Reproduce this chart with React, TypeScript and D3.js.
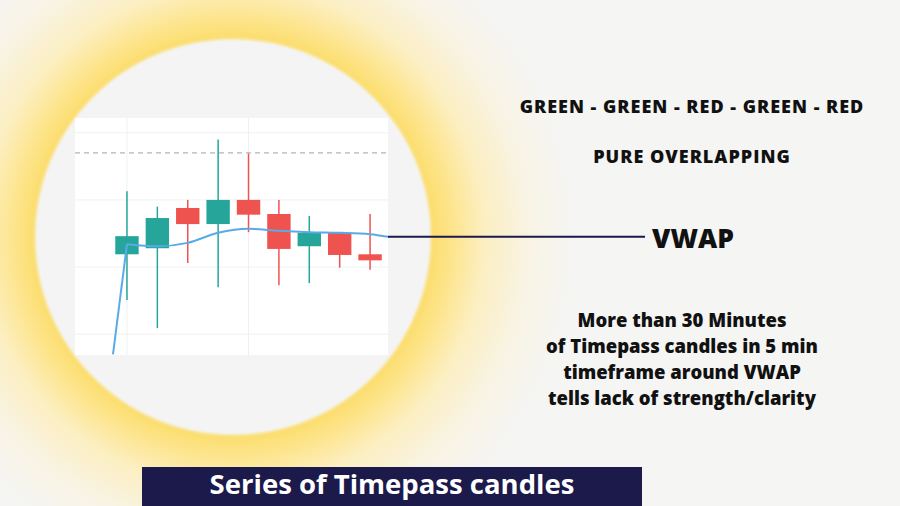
import React, { useEffect, useRef } from 'react';
import * as d3 from 'd3';

interface Candle {
  open: number;
  high: number;
  low: number;
  close: number;
}

// candle values (price units, grid every 10)
const opens = [111.9, 112.8, 118.8, 116.4, 120.0, 117.9, 113.1, 115.1, 111.9];
const highs = [121.3, 119.0, 120.0, 129.0, 126.9, 120.0, 117.6, 115.1, 117.9];
const lows = [105.1, 100.9, 110.6, 107.0, 115.2, 107.3, 107.6, 109.9, 109.6];
const closes = [114.6, 117.3, 116.4, 120.0, 117.8, 112.7, 115.1, 111.8, 111.0];

// VWAP line, x in candle slots
const vwapSlots = [-0.46, 0, 1, 2, 3, 4, 5, 6, 7, 8, 8.59];
const vwapValues = [97.0, 113.4, 113.1, 113.6, 115.1, 115.7, 115.4, 115.2, 115.1, 114.9, 114.5];

const gridPrices = [100, 110, 120, 130];
const gridSlots = [0, 4];
const dashedPrice = 127;

const headLines = ['GREEN - GREEN - RED - GREEN - RED', 'PURE OVERLAPPING'];
const noteLines = [
  'More than 30 Minutes',
  'of Timepass candles in 5 min',
  'timeframe around VWAP',
  'tells lack of strength/clarity',
];
const vwapLabel = 'VWAP';
const bannerText = 'Series of Timepass candles';

const candles: Candle[] = opens.map((o, i) => ({ open: o, high: highs[i], low: lows[i], close: closes[i] }));

const W = 900;
const H = 506;
const UP = '#26a69a';
const DOWN = '#ef5350';
const NAVY = '#1b1a4b';
const FONT = "'Open Sans', 'DejaVu Sans', sans-serif";

const App: React.FC = () => {
  const svgRef = useRef<SVGSVGElement>(null);

  useEffect(() => {
    if (!svgRef.current) return;
    const svg = d3.select(svgRef.current);
    svg.selectAll('*').remove();
    svg.attr('width', W).attr('height', H);

    const defs = svg.append('defs');
    const glow = defs
      .append('radialGradient')
      .attr('id', 'glow')
      .attr('gradientUnits', 'userSpaceOnUse')
      .attr('cx', 233)
      .attr('cy', 237)
      .attr('r', 340);
    [
      [0, '#fbdc66'],
      [0.575, '#fbdc68'],
      [0.64, '#fde48a'],
      [0.74, '#fcefc2'],
      [0.87, '#f8f3e4'],
      [1, '#f5f5f3'],
    ].forEach(([o, c]) => glow.append('stop').attr('offset', o as number).attr('stop-color', c as string));

    defs
      .append('filter')
      .attr('id', 'soft')
      .append('feGaussianBlur')
      .attr('stdDeviation', 1.5);

    // background + glowing circle
    svg.append('rect').attr('width', W).attr('height', H).attr('fill', 'url(#glow)');
    svg
      .append('circle')
      .attr('cx', 233)
      .attr('cy', 237)
      .attr('r', 198)
      .attr('fill', '#f4f4f5')
      .attr('filter', 'url(#soft)');

    // chart panel
    const left = 75;
    const right = 388;
    const top = 118;
    const bottom = 355;

    const x = d3.scaleLinear().domain([-1.71, 8.59]).range([left, right]);
    const y = d3.scaleLinear().domain([96.9, 132.2]).range([bottom, top]);

    defs
      .append('clipPath')
      .attr('id', 'plot')
      .append('rect')
      .attr('x', left)
      .attr('y', top)
      .attr('width', right - left)
      .attr('height', bottom - top);

    svg
      .append('rect')
      .attr('x', left)
      .attr('y', top)
      .attr('width', right - left)
      .attr('height', bottom - top)
      .attr('fill', '#ffffff');

    const plot = svg.append('g').attr('clip-path', 'url(#plot)');

    plot
      .selectAll('.hgrid')
      .data(gridPrices)
      .enter()
      .append('line')
      .attr('x1', left)
      .attr('x2', right)
      .attr('y1', (d) => y(d))
      .attr('y2', (d) => y(d))
      .attr('stroke', '#f0f1f3')
      .attr('stroke-width', 1);

    plot
      .selectAll('.vgrid')
      .data(gridSlots)
      .enter()
      .append('line')
      .attr('x1', (d) => x(d))
      .attr('x2', (d) => x(d))
      .attr('y1', top)
      .attr('y2', bottom)
      .attr('stroke', '#eef0f3')
      .attr('stroke-width', 1);

    plot
      .append('line')
      .attr('x1', left)
      .attr('x2', right)
      .attr('y1', y(dashedPrice))
      .attr('y2', y(dashedPrice))
      .attr('stroke', '#a0a0a0')
      .attr('stroke-width', 1)
      .attr('stroke-dasharray', '5,4');

    const bodyW = (x(1) - x(0)) * 0.77;
    const colour = (d: Candle) => (d.close >= d.open ? UP : DOWN);

    plot
      .selectAll('.wick')
      .data(candles)
      .enter()
      .append('line')
      .attr('x1', (_d, i) => x(i))
      .attr('x2', (_d, i) => x(i))
      .attr('y1', (d) => y(d.high))
      .attr('y2', (d) => y(d.low))
      .attr('stroke', colour)
      .attr('stroke-width', 1.5);

    plot
      .selectAll('.body')
      .data(candles)
      .enter()
      .append('rect')
      .attr('x', (_d, i) => x(i) - bodyW / 2)
      .attr('y', (d) => y(Math.max(d.open, d.close)))
      .attr('width', bodyW)
      .attr('height', (d) => Math.max(1, y(Math.min(d.open, d.close)) - y(Math.max(d.open, d.close))))
      .attr('fill', colour);

    // VWAP: straight rise into the first candle, smooth afterwards
    const pts: [number, number][] = vwapValues.map((v, i) => [x(vwapSlots[i]), y(v)]);
    const straight = d3.line();
    const smooth = d3.line().curve(d3.curveMonotoneX);
    [straight(pts.slice(0, 2)), smooth(pts.slice(1))].forEach((d) =>
      plot
        .append('path')
        .attr('fill', 'none')
        .attr('stroke', '#5aaae6')
        .attr('stroke-width', 2)
        .attr('stroke-linejoin', 'round')
        .attr('d', d as string)
    );

    // pointer to the VWAP label
    const lastVwap = y(vwapValues[vwapValues.length - 1]);
    svg
      .append('line')
      .attr('x1', right)
      .attr('x2', 645)
      .attr('y1', lastVwap)
      .attr('y2', lastVwap)
      .attr('stroke', NAVY)
      .attr('stroke-width', 2);

    svg
      .append('text')
      .attr('x', 652)
      .attr('y', 248)
      .attr('font-family', FONT)
      .attr('font-weight', 800)
      .attr('font-size', 26.5)
      .attr('fill', '#111')
      .text(vwapLabel);

    // right hand notes
    svg
      .selectAll('.head')
      .data(headLines)
      .enter()
      .append('text')
      .attr('x', 692)
      .attr('y', (_d, i) => 113 + i * 50)
      .attr('text-anchor', 'middle')
      .attr('font-family', FONT)
      .attr('font-weight', 800)
      .attr('font-size', 18)
      .attr('letter-spacing', 1)
      .attr('fill', '#111')
      .text((d) => d);

    svg
      .selectAll('.note')
      .data(noteLines)
      .enter()
      .append('text')
      .attr('x', 682)
      .attr('y', (_d, i) => 327 + i * 26)
      .attr('text-anchor', 'middle')
      .attr('font-family', FONT)
      .attr('font-weight', 800)
      .attr('font-size', 18.5)
      .attr('fill', '#111')
      .text((d) => d);

    // bottom banner
    svg
      .append('rect')
      .attr('x', 142)
      .attr('y', 467)
      .attr('width', 500)
      .attr('height', H - 467)
      .attr('fill', NAVY);

    svg
      .append('text')
      .attr('x', 392)
      .attr('y', 494)
      .attr('text-anchor', 'middle')
      .attr('font-family', FONT)
      .attr('font-weight', 700)
      .attr('font-size', 27.5)
      .attr('fill', '#ffffff')
      .text(bannerText);
  }, []);

  return <svg ref={svgRef} style={{ position: 'absolute', left: 0, top: 0, display: 'block' }} />;
};

export default App;
